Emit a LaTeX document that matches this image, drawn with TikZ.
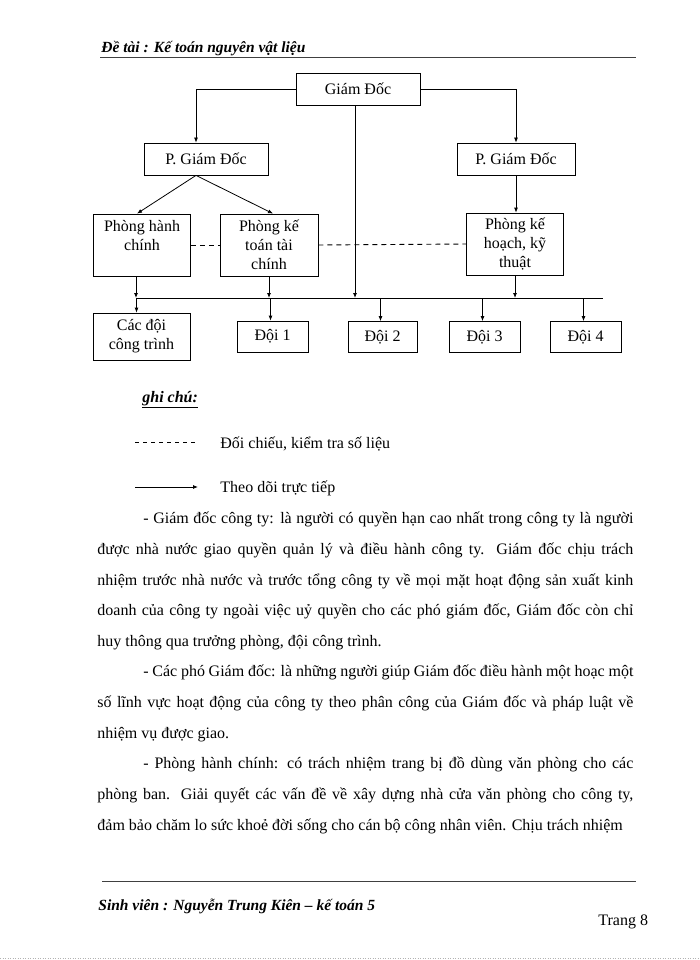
\documentclass[tikz,border=0pt]{standalone}
\usepackage{fontspec}
\setmainfont{Liberation Serif}
\usetikzlibrary{arrows.meta}

\begin{document}
\begin{tikzpicture}[
  x=1pt,y=-1pt,
  line width=0.8pt,
  box/.style={draw,inner sep=2pt,align=center,font=\fontsize{16}{19}\selectfont},
  arr/.style={-{Latex[length=5pt,width=4pt]}},
  dsh/.style={line width=0.9pt,dash pattern=on 5pt off 4pt},
  txt/.style={anchor=base west,inner sep=0pt,font=\fontsize{16}{19}\selectfont},
  para/.style={anchor=north west,inner sep=0pt,text width=536pt,align=justify,
    font=\fontsize{16}{30.6}\selectfont},
  script/.style={anchor=base west,inner sep=0pt,font=\fontsize{15.5}{17}\bfseries\itshape\selectfont}
]
  \useasboundingbox (0,0) rectangle (700,960);

  % header and footer
  \node[script] (head) at (101,53) {Đề tài : Kế toán nguyên vật liệu};
  \draw[line width=1pt,black!75] (100,58) -- (636,58);
  \draw[line width=1pt,black!75] (102,881) -- (636,881);
  \node[script] (foot) at (98,910) {Sinh viên : Nguyễn Trung Kiên -- kế toán 5};
  \node[txt] (page) at (598,925) {Trang 8};
  \draw[black!30,line width=0.5pt,dotted] (0,958) -- (700,958);

  % organisation chart
  \node[box,minimum width=124pt,minimum height=32pt] (gd) at (358,89) {Giám Đốc};
  \node[box,minimum width=124pt,minimum height=32pt] (pgdl) at (206,159) {P. Giám Đốc};
  \node[box,minimum width=118pt,minimum height=32pt] (pgdr) at (516,159) {P. Giám Đốc};
  \node[box,minimum width=97pt,minimum height=62pt] (phc) at (142,245) {Phòng hành\\chính\\\mbox{}};
  \node[box,minimum width=98pt,minimum height=62pt] (pkt) at (269,245) {Phòng kế\\toán tài\\chính};
  \node[box,minimum width=97pt,minimum height=62pt] (pkh) at (515,244) {Phòng kế\\hoạch, kỹ\\thuật};
  \node[box,minimum width=97pt,minimum height=47pt] (cac) at (141.5,336.5) {Các đội\\công trình};
  \node[box,minimum width=71pt,minimum height=31pt] (d1) at (272.5,336.5) {Đội 1};
  \node[box,minimum width=69pt,minimum height=31pt] (d2) at (382.5,337) {Đội 2};
  \node[box,minimum width=71pt,minimum height=31pt] (d3) at (484.5,337) {Đội 3};
  \node[box,minimum width=71pt,minimum height=31pt] (d4) at (585.5,337) {Đội 4};
  \coordinate (busl) at (136,298);
  \coordinate (busr) at (603,298);

  \draw (busl) -- (busr);
  \draw[arr] (gd.west) -| ([xshift=-10pt]pgdl.north);
  \draw[arr] (gd.east) -| (pgdr.north);
  \draw[arr] ([xshift=-10pt]pgdl.south) -- ([xshift=-5pt]phc.north);
  \draw[arr] ([xshift=-10pt]pgdl.south) -- ([xshift=4pt]pkt.north);
  \draw[arr] (pgdr.south) -- (pgdr.south |- pkh.north);
  \draw[arr] ([xshift=-3pt]gd.south) -- ([xshift=-3pt]gd.south |- busl);
  \draw[arr] ([xshift=-6pt]phc.south) -- ([xshift=-6pt]phc.south |- busl);
  \draw[arr] (pkt.south) -- (pkt.south |- busl);
  \draw[arr] (pkh.south) -- (pkh.south |- busl);
  \draw[arr] ([xshift=-5pt]cac.north |- busl) -- ([xshift=-5pt]cac.north);
  \foreach \t in {d1,d2,d3,d4}
    \draw[arr] ([xshift=-2pt]\t.north |- busl) -- ([xshift=-2pt]\t.north);
  \draw[dsh] (phc.east) -- (pkt.west);
  \draw[dsh] (pkt.east) -- (pkh.west);

  % legend
  \node[txt,font=\fontsize{16}{19}\bfseries\itshape\selectfont] (note) at (142,402) {\underline{ghi chú:}};
  \coordinate (ds0) at (135,442);
  \coordinate (ds1) at (198,442);
  \coordinate (ar0) at (135,487);
  \coordinate (ar1) at (198,487);
  \draw[line width=0.6pt,dash pattern=on 4pt off 4pt] (ds0) -- (ds1);
  \draw[arr] (ar0) -- (ar1);
  \node[txt] (ldash) at (220,448) {Đối chiếu, kiểm tra số liệu};
  \node[txt] (larr) at (220,492) {Theo dõi trực tiếp};

  % text
  \node[para] (p1) at (97,512) {\hspace*{46pt}- Giám đốc công ty: là người có quyền hạn cao nhất trong công ty là người\linebreak
    được nhà nước giao quyền quản lý và điều hành công ty. Giám đốc chịu trách\linebreak
    nhiệm trước nhà nước và trước tổng công ty về mọi mặt hoạt động sản xuất kinh\linebreak
    doanh của công ty ngoài việc uỷ quyền cho các phó giám đốc, Giám đốc còn chỉ\linebreak
    huy thông qua trưởng phòng, đội công trình.};
  \node[para] (p2) at (97,665) {\hspace*{46pt}- Các phó Giám đốc: là những người giúp Giám đốc điều hành một hoạc một\linebreak
    số lĩnh vực hoạt động của công ty theo phân công của Giám đốc và pháp luật về\linebreak
    nhiệm vụ được giao.};
  \node[para] (p3) at (97,757) {\parfillskip=0pt\hspace*{46pt}- Phòng hành chính: có trách nhiệm trang bị đồ dùng văn phòng cho các\linebreak
    phòng ban. Giải quyết các vấn đề về xây dựng nhà cửa văn phòng cho công ty,\linebreak
    đảm bảo chăm lo sức khoẻ đời sống cho cán bộ công nhân viên. Chịu trách nhiệm};
\end{tikzpicture}
\end{document}
